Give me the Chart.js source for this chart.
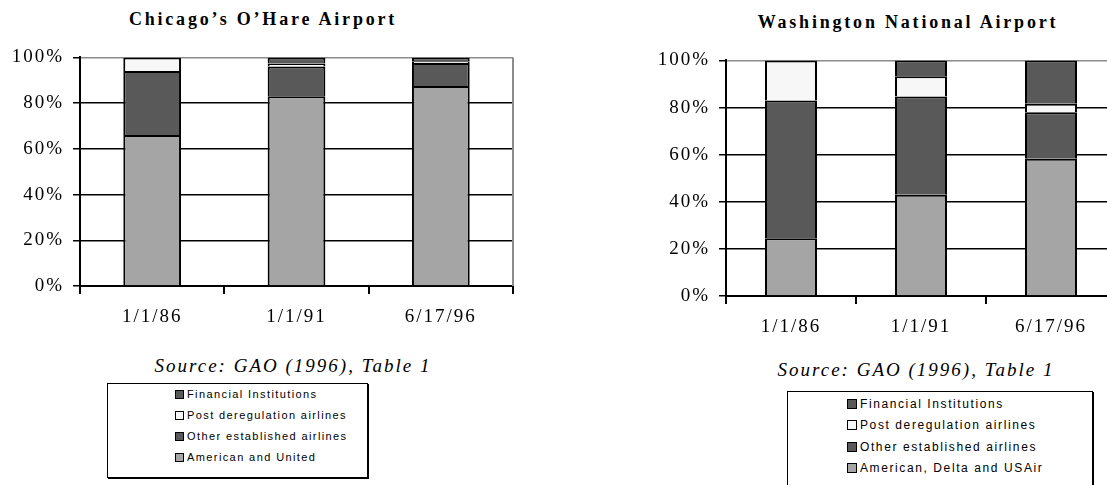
<!DOCTYPE html>
<html>
<head>
<meta charset="utf-8">
<script src="https://cdn.jsdelivr.net/npm/chart.js@4/dist/chart.umd.min.js"></script>
<style>
    html, body { margin: 0; padding: 0; background: #fff; overflow: hidden; }
    body { width: 1107px; height: 485px; position: relative; }
    .title { position: absolute; font: bold 18px/18px "Liberation Serif", serif; letter-spacing: 2.8px; text-align: center; color: #000; white-space: nowrap; }
    .source { position: absolute; font: italic 19px/19px "Liberation Serif", serif; letter-spacing: 2px; text-align: center; color: #000; white-space: nowrap; }
    .plot { position: absolute; }
    .legend { position: absolute; border: 1.5px solid #000; box-shadow: 1px 1px 0 #000; background: #fff; box-sizing: border-box; }
    .legend .item { position: absolute; font-family: "Liberation Sans", Arial, sans-serif; white-space: nowrap; color: #000; }
    .legend .swatch { display: inline-block; border: 1.5px solid #000; margin-right: 3px; box-sizing: border-box; }
    #ohareLegend .item { font-size: 11px; letter-spacing: 1.4px; }
    #ohareLegend .swatch { width: 9px; height: 9px; vertical-align: -1px; }
    #nationalLegend .item { font-size: 12px; letter-spacing: 1.6px; }
    #nationalLegend .swatch { width: 10px; height: 10px; vertical-align: -1px; }
</style>
</head>
<body>
<div class="title" id="leftTitle" style="left:63px; top:10px; width:400px;"></div>
<div class="plot" style="left:0; top:37px; width:514px; height:299px;"><canvas id="ohareChart"></canvas></div>
<div class="source" style="left:143px; top:356px; width:300px;">Source: GAO (1996), Table 1</div>
<div class="legend" id="ohareLegend" style="left:107px; top:383px; width:261px; height:95px;"></div>

<div class="title" id="rightTitle" style="left:708px; top:13px; width:400px;"></div>
<div class="plot" style="left:646px; top:40px; width:471px; height:306px;"><canvas id="nationalChart"></canvas></div>
<div class="source" style="left:766px; top:360px; width:300px;">Source: GAO (1996), Table 1</div>
<div class="legend" id="nationalLegend" style="left:787px; top:391px; width:306px; height:100px;"></div>

<script>
// Dates shared by both panels
const dates = ['1/1/86', '1/1/91', '6/17/96'];

// Chicago O'Hare shares (% of slots), bottom to top
const ohareTitle = 'Chicago\u2019s O\u2019Hare Airport';
const ohareMajors = [66, 83, 87.5];
const ohareOther = [28, 13, 10];
const oharePostDereg = [6, 1.3, 0.8];
const ohareFinancial = [0, 2.7, 1.7];
const ohareMajorsLabel = 'American and United';

// Washington National shares (% of slots), bottom to top
const nationalTitle = 'Washington National Airport';
const nationalMajors = [24.5, 43, 58.3];
const nationalOther = [58.5, 41.7, 19.7];
const nationalPostDereg = [17, 8.6, 3.6];
const nationalFinancial = [0, 6.7, 18.4];
const nationalMajorsLabel = 'American, Delta and USAir';

const otherLabel = 'Other established airlines';
const postDeregLabel = 'Post deregulation airlines';
const financialLabel = 'Financial Institutions';

const yTicks = [0, 20, 40, 60, 80, 100];

const colors = {
    majors: '#a5a5a5',
    other: '#595959',
    post: '#f7f7f7',
    financial: '#595959'
};

// Canvas text gets the same letter spacing as the printed original
const spacingPlugin = {
    id: 'spacing',
    beforeLayout(chart) { chart.ctx.letterSpacing = '2px'; },
    beforeDraw(chart) { chart.ctx.letterSpacing = '2px'; }
};

// Gray right edge of the plot area
const framePlugin = {
    id: 'frame',
    afterDraw(chart) {
        const { ctx, chartArea } = chart;
        ctx.save();
        ctx.strokeStyle = '#8c8c8c';
        ctx.lineWidth = 2;
        ctx.beginPath();
        ctx.moveTo(chartArea.right, chartArea.top);
        ctx.lineTo(chartArea.right, chartArea.bottom);
        ctx.stroke();
        ctx.restore();
    }
};

function makeDatasets(majorsLabel, majors, other, post, financial) {
    const base = { borderColor: '#000', borderWidth: 2, barPercentage: 0.4, categoryPercentage: 1 };
    return [
        Object.assign({ label: majorsLabel, data: majors, backgroundColor: colors.majors }, base),
        Object.assign({ label: otherLabel, data: other, backgroundColor: colors.other }, base),
        Object.assign({ label: postDeregLabel, data: post, backgroundColor: colors.post }, base),
        Object.assign({ label: financialLabel, data: financial, backgroundColor: colors.financial }, base)
    ];
}

function makeChart(canvasId, datasets) {
    const tickFont = { family: '"Liberation Serif", serif', size: 19 };
    return new Chart(document.getElementById(canvasId), {
        type: 'bar',
        data: { labels: dates, datasets: datasets },
        options: {
            responsive: true,
            maintainAspectRatio: false,
            animation: false,
            layout: { padding: { top: 20, right: 1, left: 0, bottom: 0 } },
            plugins: {
                legend: { display: false },
                tooltip: { enabled: false },
                title: { display: false }
            },
            scales: {
                x: {
                    stacked: true,
                    offset: true,
                    grid: { offset: true, drawOnChartArea: false, color: '#000', lineWidth: 2, tickLength: 8 },
                    border: { color: '#000', width: 2 },
                    ticks: { color: '#000', font: tickFont, padding: 12, maxRotation: 0 },
                    afterFit(scale) { scale.height = 50; }
                },
                y: {
                    stacked: true,
                    min: 0,
                    max: 100,
                    afterBuildTicks(scale) { scale.ticks = yTicks.map(v => ({ value: v })); },
                    grid: {
                        color: ctx => (ctx.tick && ctx.tick.value === 100) ? '#8c8c8c' : '#000',
                        tickColor: '#000',
                        lineWidth: 1.5,
                        tickLength: 7
                    },
                    border: { color: '#000', width: 2 },
                    ticks: { color: '#000', font: tickFont, padding: 9, callback: v => v + '%' },
                    afterFit(scale) { scale.width = 80; }
                }
            }
        },
        plugins: [spacingPlugin, framePlugin]
    });
}

function fillLegend(boxId, datasets, left, top, step) {
    const box = document.getElementById(boxId);
    // Legend lists the stack from top to bottom
    datasets.slice().reverse().forEach((ds, i) => {
        const item = document.createElement('div');
        item.className = 'item';
        item.style.left = left + 'px';
        item.style.top = (top + i * step) + 'px';
        item.innerHTML = `<span class="swatch" style="background:${ds.backgroundColor}"></span>${ds.label}`;
        box.appendChild(item);
    });
}

document.getElementById('leftTitle').textContent = ohareTitle;
document.getElementById('rightTitle').textContent = nationalTitle;

const ohareSets = makeDatasets(ohareMajorsLabel, ohareMajors, ohareOther, oharePostDereg, ohareFinancial);
const nationalSets = makeDatasets(nationalMajorsLabel, nationalMajors, nationalOther, nationalPostDereg, nationalFinancial);

makeChart('ohareChart', ohareSets);
makeChart('nationalChart', nationalSets);

fillLegend('ohareLegend', ohareSets, 67, 4, 21);
fillLegend('nationalLegend', nationalSets, 59, 5, 21.3);
</script>
</body>
</html>
